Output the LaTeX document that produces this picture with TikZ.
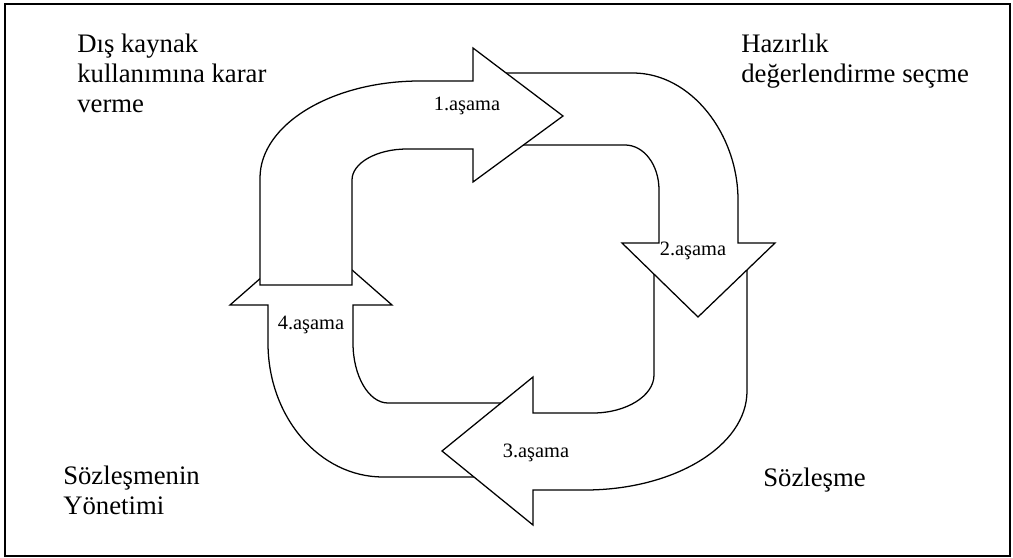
\documentclass[tikz,border=0pt]{standalone}
\usepackage{fontspec}
\setmainfont{Liberation Serif}

\begin{document}
\begin{tikzpicture}[x=0.025cm, y=-0.025cm,
    blockarrow/.style={draw, fill=white, line width=0.9pt},
    corner/.style={anchor=north west, inner sep=0pt, align=left,
      font=\fontsize{19}{21.3}\selectfont},
    stage/.style={anchor=base, inner sep=0pt,
      font=\fontsize{14.5}{17}\selectfont}]
  \useasboundingbox (0,0) rectangle (1013,558);
  \draw[line width=1pt] (5,4) rectangle (1010,556);

  % 4. asama (up), lies under the others
  \draw[blockarrow] (520,403) -- (388,403)
    .. controls (368.7,403) and (353,376) .. (353,343)
    -- (353,305) -- (392,305) -- (311,234) -- (230,305) -- (268,305)
    -- (268,343) .. controls (268,417) and (319.5,477) .. (383,477)
    -- (520,477) -- cycle;
  % 3. asama (left)
  \draw[blockarrow] (654,255) -- (654,375)
    .. controls (654,396) and (626,413) .. (593,413)
    -- (533,413) -- (533,377) -- (442,451) -- (533,525) -- (533,490)
    -- (585,490) .. controls (674,490) and (747,446) .. (747,391)
    -- (747,255) -- cycle;
  % 2. asama (down)
  \draw[blockarrow] (490,73) -- (633,73)
    .. controls (691,73) and (738,134) .. (738,200)
    -- (738,243) -- (775,243) -- (698,317) -- (622,243) -- (659,243)
    -- (659,190) .. controls (659,165) and (644,145) .. (625,145)
    -- (490,145) -- cycle;
  % 1. asama (right), on top
  \draw[blockarrow] (260,285) -- (260,178)
    .. controls (260,124.5) and (331.7,81) .. (420,81)
    -- (473,81) -- (473,48) -- (563,116) -- (473,182) -- (473,149)
    -- (407,149) .. controls (376.6,149) and (352,163) .. (352,180)
    -- (352,285) -- cycle;

  \node[stage] (st1) at (467,110) {1.aşama};
  \node[stage] (st2) at (693,255) {2.aşama};
  \node[stage] (st3) at (536,457) {3.aşama};
  \node[stage] (st4) at (311,329) {4.aşama};

  \node[corner] (decide) at (77,34) {Dış kaynak\\kullanımına karar\\verme};
  \node[corner] (prep) at (741,34) {Hazırlık\\değerlendirme seçme};
  \node[corner] (manage) at (63,466) {Sözleşmenin\\Yönetimi};
  \node[corner] (contract) at (763,468) {Sözleşme};
\end{tikzpicture}
\end{document}
